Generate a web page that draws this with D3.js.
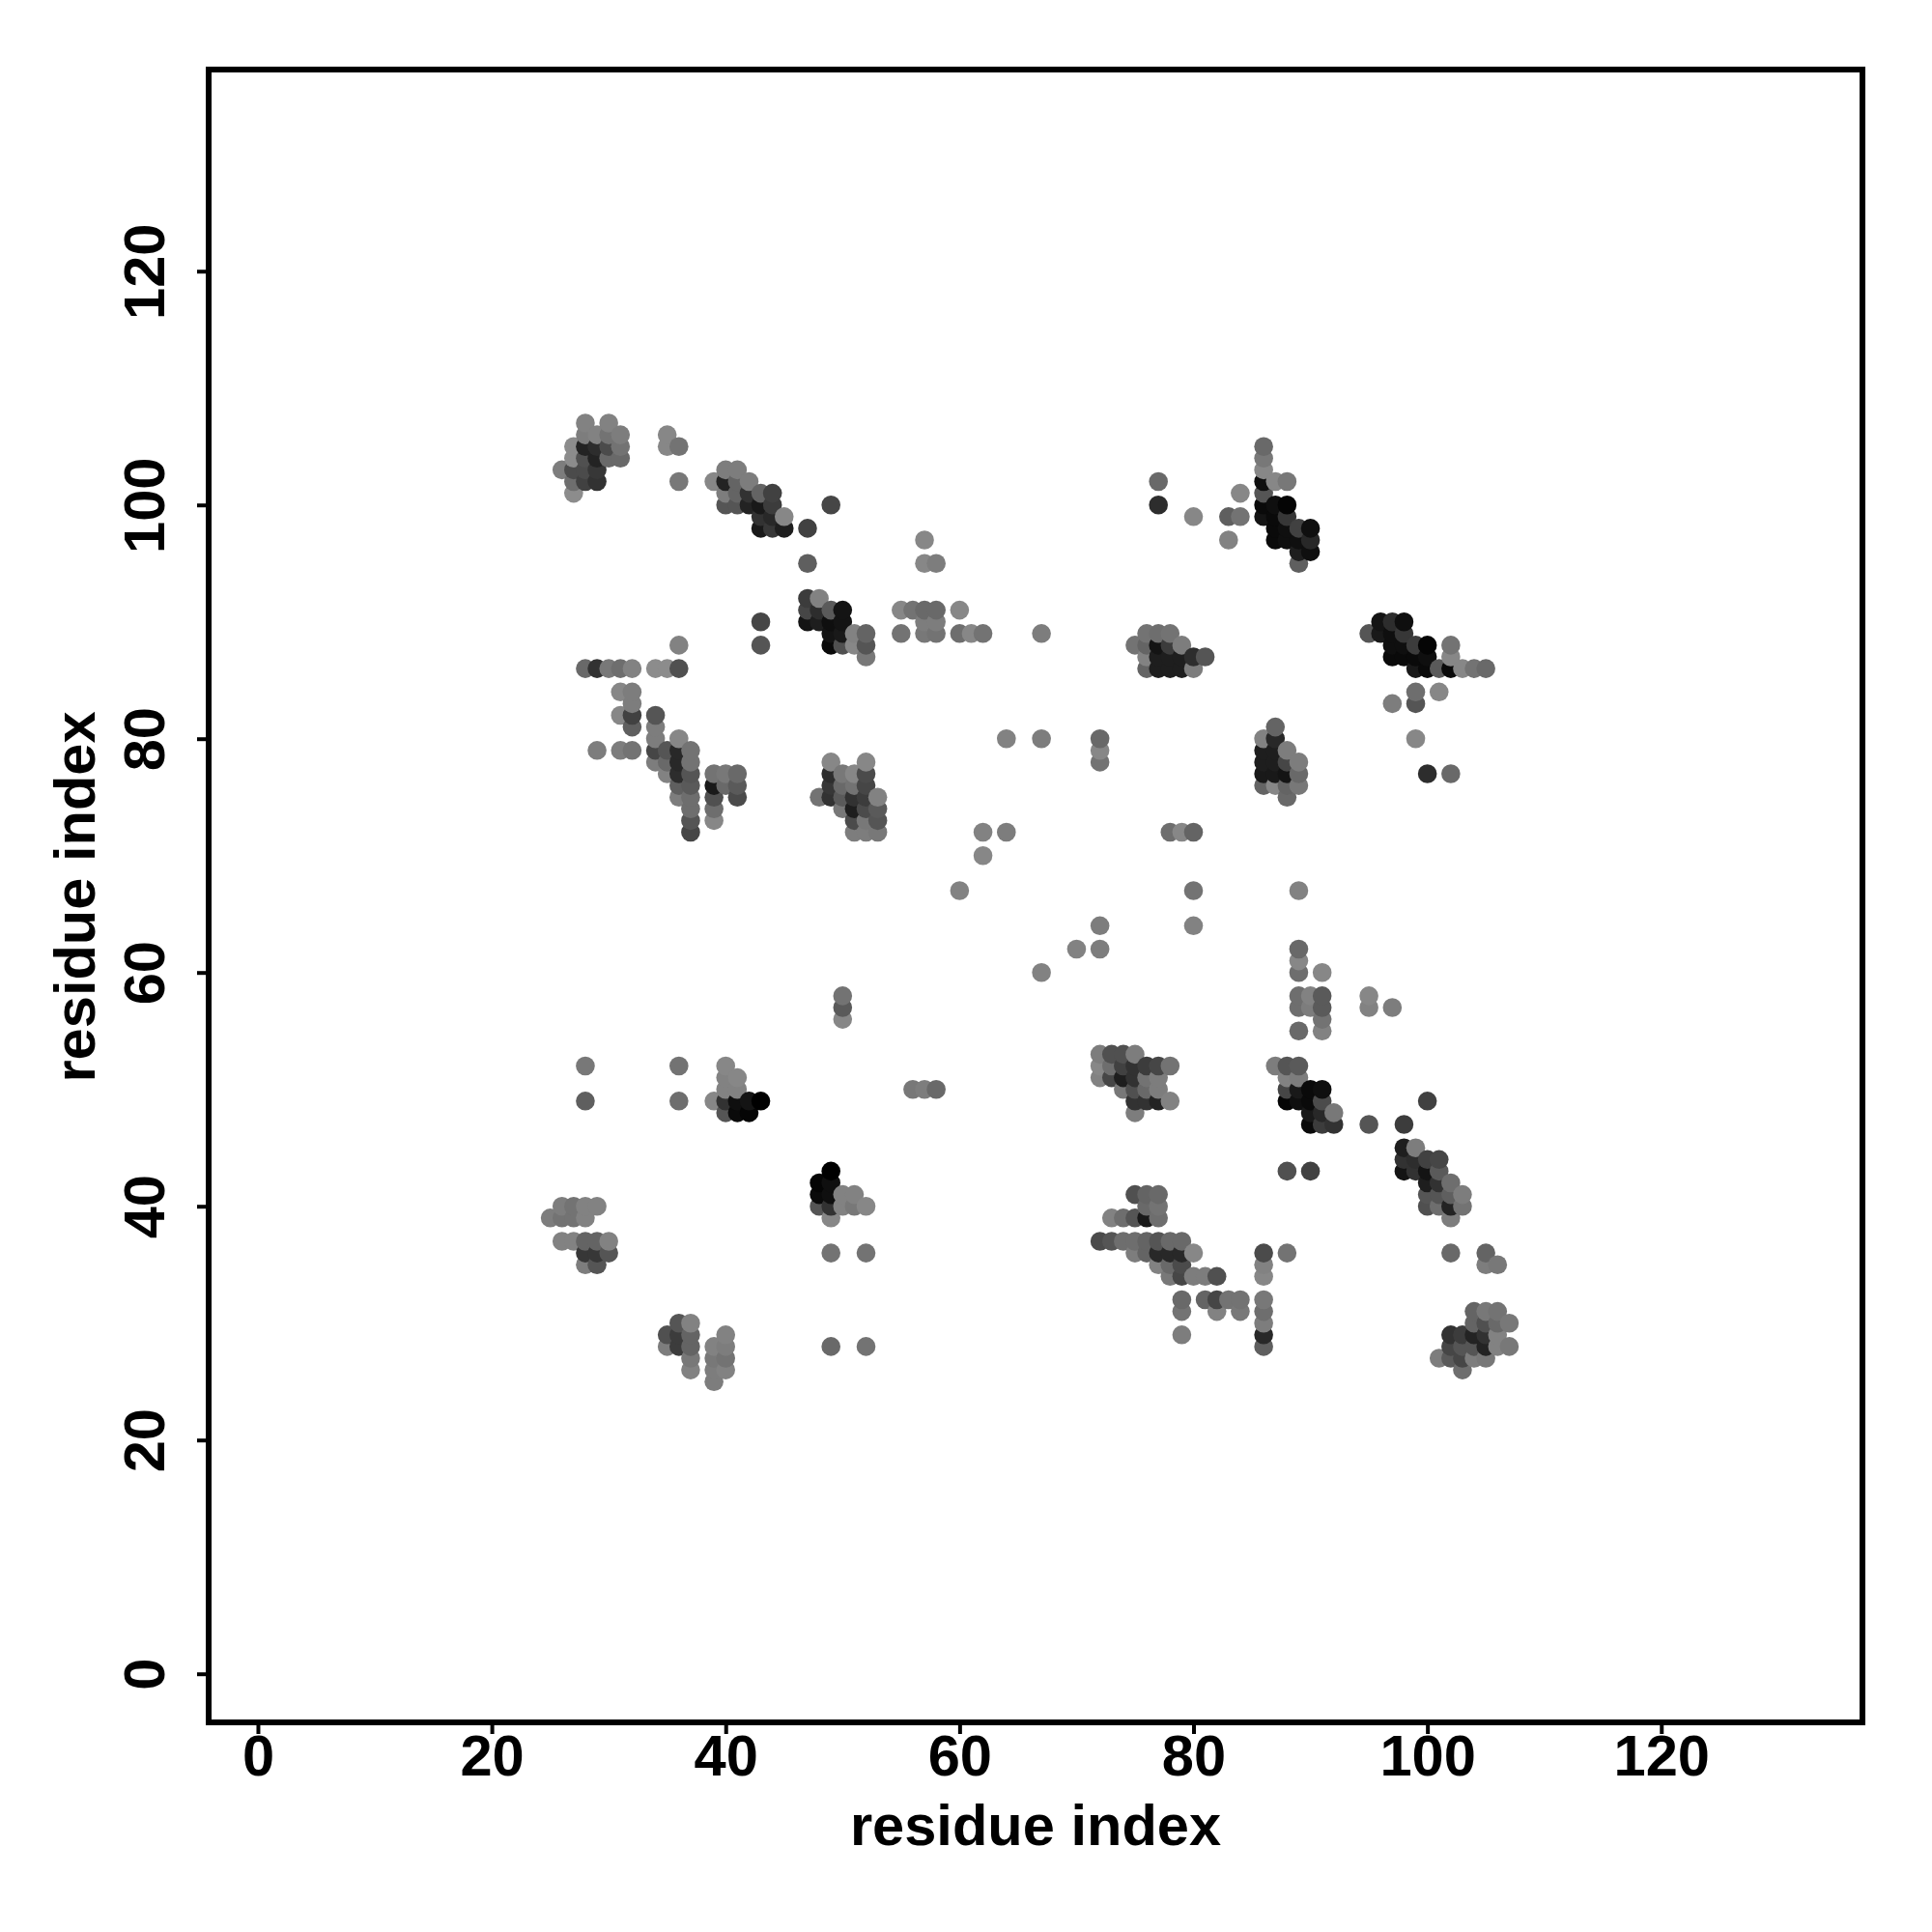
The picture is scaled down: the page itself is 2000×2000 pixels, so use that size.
<!DOCTYPE html>
<html><head><meta charset="utf-8">
<script src="https://cdn.jsdelivr.net/npm/d3@7"></script>
<style>html,body{margin:0;background:#fff}svg{display:block}text{font-family:"Liberation Sans",Arial,sans-serif;font-weight:bold;fill:#000}</style>
</head><body><svg id="c" width="2000" height="2000"></svg>
<script>
const tickValues=[0,20,40,60,80,100,120];
const axisTitle="residue index";
// each contact: [residue i, residue j, grey level]
const topLeft=[[28,107,130],[30,107,130],[28,106,125],[29,106,130],[30,106,115],[31,106,125],[27,105,140],[28,105,35],[29,105,45],[30,105,75],[31,105,115],[27,104,140],[28,104,80],[29,104,35],[30,104,105],[31,104,105],[26,103,125],[27,103,75],[28,103,75],[29,103,55],[27,102,110],[28,102,65],[29,102,50],[27,101,140],[35,106,135],[35,105,135],[36,105,115],[36,102,120]];
const topDiag=[[40,103,125],[41,103,125],[39,102,135],[40,102,35],[41,102,100],[42,102,125],[40,101,125],[41,101,100],[42,101,50],[43,101,100],[44,101,65],[40,100,85],[41,100,85],[42,100,35],[43,100,25],[44,100,60],[43,99,50],[44,99,40],[45,99,135],[43,98,25],[44,98,55],[45,98,30],[47,98,65],[49,100,70],[47,95,95]];
const midTop=[[47,92,60],[48,92,130],[47,91,70],[48,91,45],[49,91,90],[50,91,20],[47,90,20],[48,90,30],[49,90,15],[50,90,20],[49,89,20],[50,89,25],[51,89,130],[52,89,100],[49,88,10],[50,88,80],[51,88,135],[52,88,85],[52,87,120],[43,90,70],[43,88,85],[36,88,130]];
const row86=[[28,86,105],[29,86,50],[30,86,120],[31,86,110],[32,86,130],[34,86,140],[35,86,140],[36,86,80]];
const spread57=[[57,97,135],[57,95,135],[58,95,125],[55,91,135],[56,91,115],[57,91,105],[58,91,105],[60,91,135],[57,90,125],[58,90,125],[55,89,115],[57,89,120],[58,89,115],[60,89,110],[61,89,135],[62,89,115],[67,89,125]];
const sparse77=[[77,102,105],[77,100,45],[80,99,135],[83,99,95],[84,99,115],[84,101,135],[83,97,130]];
const blob75=[[76,89,115],[77,89,110],[78,89,115],[75,88,115],[76,88,100],[77,88,20],[78,88,60],[79,88,125],[76,87,130],[77,87,30],[78,87,30],[79,87,30],[80,87,45],[81,87,85],[76,86,100],[77,86,30],[78,86,30],[79,86,30],[80,86,125]];
const blob86=[[86,105,105],[86,104,120],[86,103,135],[86,102,15],[86,101,85],[86,100,10],[86,99,20],[87,102,135],[87,100,15],[87,99,10],[87,98,10],[87,97,10],[88,102,120],[88,100,5],[88,99,55],[88,98,15],[88,97,15],[89,98,65],[89,97,15],[89,96,30],[89,95,95],[90,98,15],[90,97,40],[90,96,15]];
const blob96=[[96,90,20],[97,90,45],[98,90,15],[95,89,85],[96,89,25],[97,89,15],[98,89,55],[97,88,15],[98,88,15],[99,88,60],[100,88,5],[102,88,115],[97,87,10],[98,87,10],[99,87,10],[100,87,15],[102,87,135],[99,86,25],[100,86,10],[101,86,90],[102,86,10],[103,86,135],[104,86,115],[105,86,105],[99,84,110],[101,84,135],[97,83,125],[99,83,85],[99,80,135],[100,77,45],[102,77,105]];
const blob87=[[87,81,100],[86,80,130],[87,80,40],[86,79,30],[87,79,30],[88,79,125],[86,78,30],[87,78,30],[88,78,70],[89,78,125],[86,77,25],[87,77,25],[88,77,20],[89,77,105],[86,76,100],[87,76,135],[88,76,100],[89,76,120],[88,75,105]];
const blob34=[[31,84,135],[32,84,125],[32,83,125],[31,82,135],[32,82,65],[34,82,85],[32,81,95],[34,81,125],[34,80,125],[36,80,135],[29,79,125],[31,79,125],[32,79,115],[34,79,70],[35,79,85],[36,79,40],[37,79,115],[34,78,125],[35,78,105],[36,78,40],[37,78,115],[35,77,130],[36,77,45],[37,77,85],[39,77,115],[40,77,120],[41,77,105],[36,76,95],[37,76,90],[39,76,25],[40,76,105],[41,76,90],[36,75,125],[37,75,110],[39,75,80],[41,75,75],[37,74,110],[39,74,110],[37,73,85],[39,73,135],[37,72,70]];
const blob48=[[49,78,135],[52,78,135],[49,77,45],[50,77,120],[51,77,135],[52,77,75],[49,76,55],[50,76,105],[51,76,115],[52,76,70],[48,75,115],[49,75,50],[50,75,90],[51,75,50],[52,75,60],[53,75,130],[50,74,120],[51,74,30],[52,74,75],[53,74,90],[51,73,75],[52,73,120],[53,73,85],[51,72,125],[52,72,125],[53,72,120]];
const centre=[[64,80,130],[67,80,125],[72,80,105],[72,79,135],[72,78,115],[62,72,130],[64,72,125],[78,72,110],[79,72,135],[80,72,100],[62,70,135],[60,67,130],[80,67,115],[89,67,130],[72,64,125],[80,64,130],[70,62,130],[72,62,125],[89,62,105],[89,61,135],[89,60,110],[67,60,130],[91,60,135],[89,58,110],[90,58,130],[91,58,90],[95,58,135],[89,57,110],[90,57,125],[91,57,90],[95,57,130],[97,57,125],[91,56,115],[89,55,105],[91,55,130],[50,58,115],[50,57,90],[50,56,135]];
const blob72=[[72,53,125],[73,53,80],[74,53,80],[75,53,125],[72,52,135],[73,52,110],[74,52,65],[75,52,50],[76,52,60],[77,52,70],[78,52,115],[72,51,130],[73,51,70],[74,51,30],[75,51,50],[76,51,115],[77,51,125],[74,50,120],[75,50,80],[76,50,105],[77,50,125],[75,49,50],[76,49,50],[77,49,35],[78,49,130],[75,48,125]];
const blob88=[[87,52,125],[88,52,85],[89,52,90],[88,51,130],[89,51,125],[88,50,70],[89,50,25],[90,50,10],[91,50,15],[88,49,5],[89,49,15],[90,49,10],[91,49,75],[90,48,25],[91,48,40],[92,48,120],[90,47,10],[91,47,60],[92,47,50],[95,47,85],[88,43,80],[90,43,65]];
const blob98=[[100,49,65],[98,47,60],[98,45,30],[99,45,125],[98,44,50],[99,44,45],[100,44,65],[101,44,70],[98,43,20],[99,43,50],[100,43,20],[101,43,90],[100,42,30],[101,42,50],[102,42,110],[100,41,85],[101,41,85],[102,41,95],[103,41,125],[100,40,80],[101,40,110],[102,40,35],[103,40,115],[102,39,125],[102,36,105],[105,36,100],[105,35,125],[106,35,120]];
const blob73=[[75,41,80],[76,41,100],[77,41,105],[76,40,105],[77,40,115],[73,39,130],[74,39,110],[75,39,85],[76,39,25],[77,39,110],[72,37,75],[73,37,85],[74,37,110],[75,37,110],[76,37,100],[77,37,85],[78,37,105],[79,37,105],[75,36,125],[76,36,100],[77,36,40],[78,36,40],[79,36,40],[80,36,135],[86,36,75],[88,36,115],[77,35,130],[78,35,105],[79,35,75],[86,35,130],[78,34,120],[79,34,70],[80,34,125],[81,34,125],[82,34,80],[86,34,135],[79,32,105],[81,32,100],[82,32,70],[83,32,115],[84,32,115],[86,32,120],[79,31,115],[82,31,130],[84,31,120],[86,31,110],[86,30,125],[79,29,125],[86,29,40],[86,28,95]];
const blob104=[[104,31,100],[105,31,120],[106,31,115],[104,30,100],[105,30,80],[106,30,105],[107,30,120],[102,29,50],[103,29,60],[104,29,35],[105,29,50],[106,29,130],[102,28,70],[103,28,85],[104,28,85],[105,28,35],[106,28,130],[107,28,120],[101,27,125],[102,27,90],[103,27,70],[104,27,125],[105,27,120],[103,26,110]];
const blob40=[[28,52,120],[36,52,115],[28,49,95],[36,49,110],[40,52,135],[40,51,130],[41,51,135],[40,50,130],[41,50,130],[39,49,135],[40,49,50],[41,49,15],[42,49,20],[43,49,0],[40,48,85],[41,48,10],[42,48,5],[56,50,120],[57,50,125],[58,50,105]];
const blob49=[[49,43,0],[48,42,5],[49,42,15],[48,41,10],[49,41,15],[50,41,130],[51,41,130],[48,40,85],[49,40,50],[50,40,130],[51,40,120],[52,40,135],[49,39,135],[49,36,115],[52,36,115],[49,28,105],[52,28,115]];
const blob26=[[26,40,125],[27,40,115],[28,40,130],[29,40,130],[25,39,125],[26,39,115],[27,39,115],[28,39,130],[26,37,130],[27,37,130],[28,37,100],[29,37,100],[30,37,130],[28,36,55],[29,36,55],[30,36,85],[28,35,125],[29,35,85]];
const blob36=[[36,30,85],[37,30,130],[35,29,80],[36,29,60],[37,29,100],[40,29,130],[35,28,125],[36,28,60],[37,28,100],[39,28,130],[40,28,125],[37,27,120],[39,27,120],[40,27,115],[37,26,130],[39,26,125],[40,26,130],[39,25,125]];

const contacts=[].concat(topLeft,topDiag,midTop,row86,spread57,sparse77,blob75,blob86,blob96,blob87,blob34,blob48,centre,blob72,blob88,blob98,blob73,blob104,blob40,blob49,blob26,blob36)
  .sort((a,b)=>d3.ascending(a[0],b[0])||d3.ascending(a[1],b[1]));

const svg=d3.select("#c");
const L=216,R=1928,T=72,B=1783;
const x=d3.scaleLinear().domain([-4.21,137.2]).range([L,R]);
const y=d3.scaleLinear().domain([-4.157,137.25]).range([B,T]);
const FS=59.6;

svg.append("g").selectAll("circle").data(contacts).join("circle")
  .attr("cx",d=>x(d[0])).attr("cy",d=>y(d[1])).attr("r",9.8)
  .attr("fill",d=>d3.rgb(d[2],d[2],d[2]));

svg.append("rect").attr("x",L).attr("y",T).attr("width",R-L).attr("height",B-T)
  .attr("fill","none").attr("stroke","#000").attr("stroke-width",6);

const ax=svg.append("g").attr("transform",`translate(0,${B})`)
  .call(d3.axisBottom(x).tickValues(tickValues).tickSize(12));
const ay=svg.append("g").attr("transform",`translate(${L},0)`)
  .call(d3.axisLeft(y).tickValues(tickValues).tickSize(12));
[ax,ay].forEach(g=>{g.select(".domain").remove();g.selectAll("line").attr("stroke","#000").attr("stroke-width",4);
  g.selectAll("text").style("font-size",FS+"px").attr("fill","#000");});
ax.selectAll("text").attr("dy",null).attr("text-anchor","middle").attr("y",54.5);
ay.selectAll("text").attr("x",null).attr("dy",null)
  .attr("text-anchor","middle")
  .attr("transform",`translate(${169.5-L},0) rotate(-90)`);

svg.append("text").attr("x",(L+R)/2).attr("y",1909.5).attr("text-anchor","middle").style("font-size",FS+"px").text(axisTitle);
svg.append("text").attr("transform",`translate(97.5,${(T+B)/2+1}) rotate(-90)`).attr("text-anchor","middle").style("font-size",FS+"px").text(axisTitle);
</script></body></html>
